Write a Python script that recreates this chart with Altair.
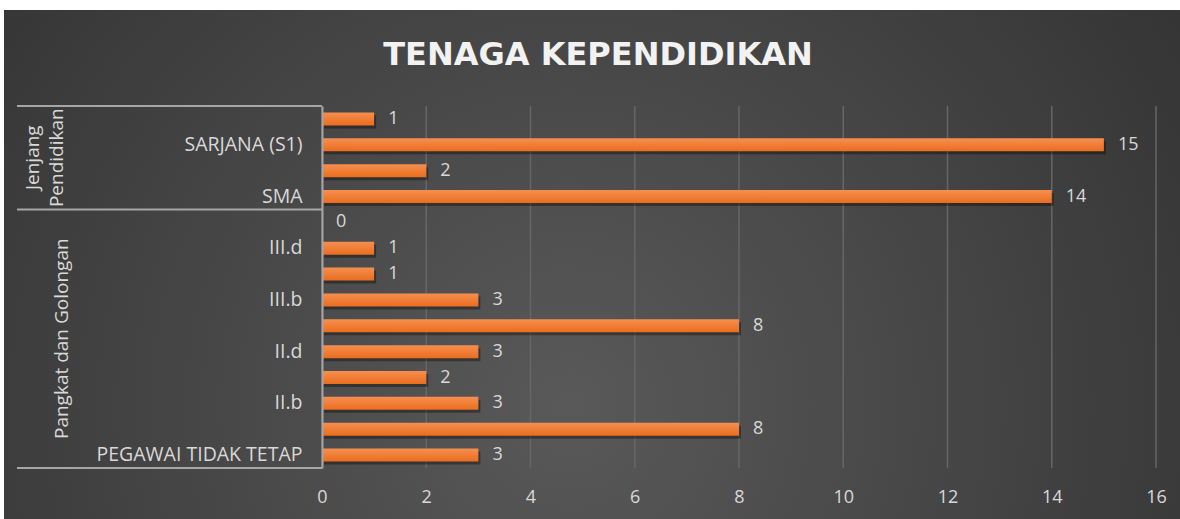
import altair as alt
import pandas as pd

# ---- data (top to bottom as drawn) ----
categories = ["MAGISTER (S2)", "SARJANA (S1)", "DIPLOMA (D3)", "SMA",
              "IV.a", "III.d", "III.c", "III.b", "III.a", "II.d", "II.c", "II.b", "II.a",
              "PEGAWAI TIDAK TETAP"]
values = [1, 15, 2, 14, 0, 1, 1, 3, 8, 3, 2, 3, 8, 3]
groups = ["Jenjang Pendidikan"] * 4 + ["Pangkat dan Golongan"] * 10
shown_labels = ["SARJANA (S1)", "SMA", "III.d", "III.b", "II.d", "II.b", "PEGAWAI TIDAK TETAP"]
x_ticks = [0, 2, 4, 6, 8, 10, 12, 14, 16]
title_text = "TENAGA KEPENDIDIKAN"

df = pd.DataFrame({"cat": categories, "val": values, "grp": groups})

FONT = "Open Sans"
LABEL = "#d9d9d9"
W, H = 834, 362

yenc = alt.Y("cat:N", sort=categories,
             scale=alt.Scale(paddingInner=0, paddingOuter=0),
             axis=alt.Axis(title=None, ticks=False, labelPadding=20, labelFontSize=19.5,
                           labelColor=LABEL, labelFont=FONT, domainColor="#a6a6a6",
                           domainWidth=2, grid=False, labelLimit=400, zindex=1,
                           labelExpr="indexof(" + str(shown_labels) + ", datum.label) >= 0 ? datum.label : ''"))
xscale = alt.Scale(domain=[0, 16], nice=False)
xenc = alt.X("val:Q", scale=xscale,
             axis=alt.Axis(title=None, values=x_ticks, grid=False, domain=False, ticks=False,
                           labelPadding=20, labelFontSize=18, labelColor=LABEL, labelFont=FONT,
                           labelFlush=False, zindex=1))

base = alt.Chart(df)

bg = base.mark_rect(clip=False, fill=alt.Gradient(
        gradient="radial", x1=0.48, y1=0.62, r1=0, x2=0.48, y2=0.62, r2=0.85,
        stops=[alt.GradientStop(color="#595959", offset=0),
               alt.GradientStop(color="#272727", offset=1)])).encode(
    x=alt.value(-318), x2=alt.value(1180 - 322), y=alt.value(-96), y2=alt.value(519 - 106))

grid = alt.Chart(pd.DataFrame({"g": x_ticks})).mark_rule(
    color="#666666", strokeWidth=1.5).encode(
    x=alt.X("g:Q", scale=xscale), y=alt.value(0), y2=alt.value(H))

shadow = base.mark_bar(size=13, color="#000000", opacity=0.35, xOffset=2, yOffset=3).encode(
    x=xenc, y=yenc)

bars = base.mark_bar(size=13, fill=alt.Gradient(
        gradient="linear", x1=0, y1=0, x2=0, y2=1,
        stops=[alt.GradientStop(color="#F68F50", offset=0),
               alt.GradientStop(color="#EA6D1E", offset=1)])).encode(
    x=xenc, y=yenc)

labels = base.mark_text(align="left", baseline="middle", dx=14, fontSize=18,
                        font=FONT, color=LABEL).encode(
    x=xenc, y=yenc, text="val:Q")

# multi-level category box lines
top_line = alt.Chart(pd.DataFrame({"cat": [categories[0]]})).mark_rule(
    color="#a6a6a6", strokeWidth=2).encode(
    y=alt.Y("cat:N", sort=categories, bandPosition=0), x=alt.value(-305), x2=alt.value(0))
grp_ends = [categories[3], categories[-1]]
end_lines = alt.Chart(pd.DataFrame({"cat": grp_ends})).mark_rule(
    color="#a6a6a6", strokeWidth=2).encode(
    y=alt.Y("cat:N", sort=categories, bandPosition=1), x=alt.value(-305), x2=alt.value(0))

g1 = alt.Chart(pd.DataFrame({"cat": [categories[2]], "t": [["Jenjang", "Pendidikan"]]})).mark_text(
    angle=270, align="center", baseline="middle", fontSize=19, font=FONT, color=LABEL,
    lineHeight=24).encode(
    y=alt.Y("cat:N", sort=categories, bandPosition=0), x=alt.value(-289), text="t")
g2 = alt.Chart(pd.DataFrame({"cat": [categories[9]], "t": ["Pangkat dan Golongan"]})).mark_text(
    angle=270, align="center", baseline="middle", fontSize=19, font=FONT, color=LABEL).encode(
    y=alt.Y("cat:N", sort=categories, bandPosition=0), x=alt.value(-260), text="t")

title = alt.Chart(pd.DataFrame({"t": [title_text]})).mark_text(
    fontSize=32, fontWeight="bold", font="DejaVu Sans", color="#f2f2f2",
    align="center", baseline="middle").encode(
    x=alt.value(598 - 322), y=alt.value(55 - 106), text="t")

chart = alt.layer(bg, grid, shadow, bars, labels, top_line, end_lines, g1, g2,
                  title).properties(
    width=W, height=H,
    padding={"left": 322, "top": 106, "right": 1180 - 322 - W, "bottom": 519 - 106 - H},
    autosize=alt.AutoSizeParams(type="none"),
    background="#ffffff",
).configure_view(stroke=None)

chart.save("out.html", embed_options={"renderer": "svg", "actions": False})
